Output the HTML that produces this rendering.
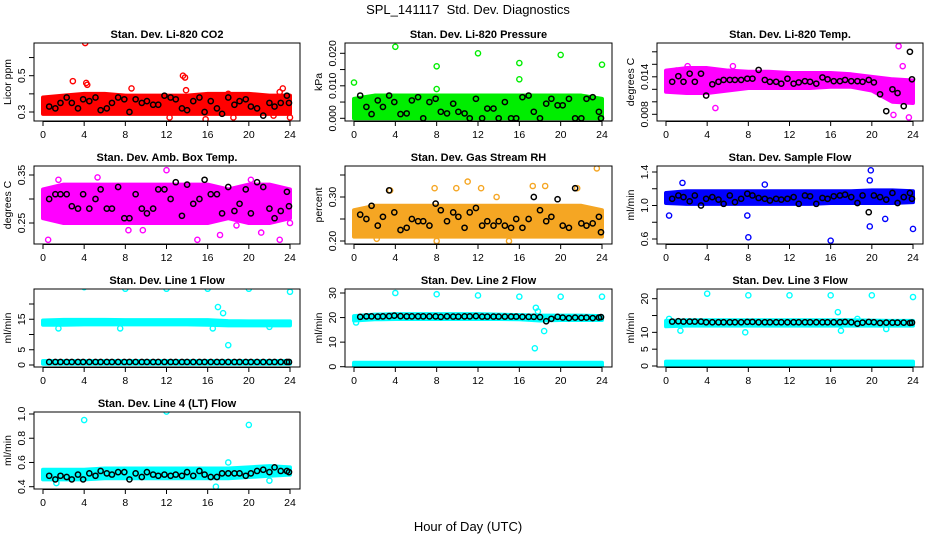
<!DOCTYPE html>
<html><head><meta charset="utf-8"><style>
body{margin:0;background:#fff}
svg{display:block;font-family:"Liberation Sans",Arial,sans-serif}
.t{font-size:11px;font-weight:bold;text-anchor:middle}
.tk{font-size:10.5px;text-anchor:middle}
</style></head><body>
<svg id="c" width="936" height="540" viewBox="0 0 936 540">
<text x="468" y="14" font-size="13" text-anchor="middle">SPL_141117&#160; Std. Dev. Diagnostics</text>
<text x="468" y="531" font-size="13" text-anchor="middle">Hour of Day (UTC)</text>
</svg>
<script>
const xTicks=[0,4,8,12,16,20,24];
const bandHours=[0,2,4,6,8,10,12,14,16,18,20,22,24];
const blackHours=[0.6,1.2,1.7,2.3,2.8,3.4,3.9,4.5,5.1,5.6,6.2,6.7,7.3,7.9,8.4,9.0,9.6,10.1,10.7,11.2,11.8,12.4,12.9,13.5,14.0,14.6,15.2,15.7,16.3,16.9,17.4,18.0,18.6,19.1,19.7,20.2,20.8,21.4,22.0,22.5,23.1,23.7,23.9];

const co2Lo=[0.29,0.29,0.29,0.29,0.29,0.29,0.29,0.29,0.29,0.29,0.29,0.29,0.29];
const co2Hi=[0.38,0.39,0.40,0.40,0.39,0.39,0.39,0.39,0.40,0.40,0.40,0.39,0.39];
const co2OutH=[4.1,2.9,4.2,4.3,8.6,13.6,13.8,13.9,23.3,23.0,18.0,24.0,18.5,12.3,15.8,22.4];
const co2OutV=[0.68,0.47,0.46,0.45,0.43,0.50,0.49,0.42,0.43,0.41,0.40,0.27,0.27,0.27,0.26,0.28];
const co2Black=[0.33,0.32,0.35,0.38,0.35,0.32,0.37,0.36,0.38,0.31,0.32,0.35,0.38,0.37,0.30,0.37,0.35,0.36,0.34,0.34,0.39,0.38,0.37,0.32,0.31,0.36,0.38,0.30,0.36,0.32,0.29,0.38,0.34,0.36,0.37,0.33,0.32,0.28,0.35,0.33,0.35,0.39,0.35];
const prLo=[0,0,0,0,0,0,0,0,0,0,0,0,0];
const prHi=[0.006,0.007,0.007,0.007,0.007,0.007,0.007,0.007,0.007,0.007,0.007,0.007,0.006];
const prOutH=[0,4,8,8,12,16,16,20,24];
const prOutV=[0.011,0.022,0.016,0.009,0.020,0.017,0.012,0.0195,0.0165];
const prBlack=[0.007,0.0035,0.0013,0.0055,0.0035,0.007,0.005,0.0013,0.0015,0.0055,0.0065,0,0.005,0.006,0.002,0.0015,0.0045,0.002,0.0015,0,0.006,0,0.003,0.003,0,0.005,0,0,0.0065,0.007,0.002,0,0.0045,0.006,0.004,0.004,0.006,0,0,0.006,0.0065,0.002,0];
const ltLo=[0.0116,0.0114,0.0114,0.0118,0.0122,0.0122,0.0122,0.0122,0.0124,0.0124,0.0118,0.0100,0.0098];
const ltHi=[0.0150,0.0154,0.0154,0.0150,0.0148,0.0148,0.0146,0.0146,0.0146,0.0144,0.0140,0.0136,0.0134];
const ltOutH=[4.8,22.6,23.0,23.6,22.1,6.5,2.1,1.0];
const ltOutV=[0.0090,0.0189,0.0157,0.0075,0.0079,0.0157,0.0157,0.0150];
const ltBlack=[0.0132,0.0141,0.0132,0.0145,0.0132,0.0145,0.0110,0.0128,0.0132,0.0135,0.0135,0.0135,0.0135,0.0137,0.0137,0.0151,0.0135,0.0132,0.0132,0.0129,0.0137,0.0129,0.0131,0.0133,0.0132,0.0129,0.0139,0.0136,0.0133,0.0133,0.0135,0.0133,0.0133,0.0132,0.0135,0.0131,0.0112,0.0085,0.0120,0.0114,0.0093,0.0180,0.0136];
const abLo=[0.26,0.25,0.25,0.25,0.25,0.25,0.25,0.25,0.25,0.26,0.25,0.25,0.26];
const abHi=[0.32,0.33,0.33,0.33,0.33,0.33,0.33,0.33,0.33,0.32,0.33,0.33,0.32];
const abOutH=[0.5,1.5,5.3,8.3,9.7,12.0,15.0,17.2,18.8,20.2,21.2,23.0,24.0];
const abOutV=[0.215,0.34,0.345,0.235,0.235,0.36,0.215,0.225,0.245,0.34,0.23,0.215,0.25];
const abBlack=[0.30,0.31,0.31,0.31,0.285,0.28,0.31,0.28,0.30,0.32,0.28,0.28,0.325,0.26,0.26,0.31,0.28,0.27,0.28,0.32,0.32,0.30,0.335,0.265,0.33,0.29,0.30,0.34,0.31,0.31,0.27,0.325,0.275,0.29,0.32,0.27,0.335,0.325,0.28,0.26,0.275,0.315,0.285];
const rhLo=[0.21,0.21,0.21,0.21,0.21,0.21,0.21,0.21,0.21,0.21,0.21,0.21,0.21];
const rhHi=[0.27,0.28,0.28,0.28,0.28,0.28,0.28,0.28,0.28,0.28,0.28,0.28,0.27];
const rhOutH=[3.5,7.8,9.9,11.0,12.3,13.8,17.3,18.5,21.6,23.5,15.0,8.0,2.2];
const rhOutV=[0.315,0.32,0.32,0.335,0.32,0.30,0.325,0.325,0.32,0.365,0.20,0.20,0.205];
const rhBlack=[0.26,0.25,0.28,0.235,0.255,0.315,0.265,0.225,0.23,0.25,0.245,0.245,0.235,0.285,0.27,0.245,0.265,0.255,0.23,0.265,0.275,0.235,0.245,0.235,0.245,0.235,0.23,0.25,0.23,0.25,0.30,0.27,0.245,0.255,0.295,0.235,0.23,0.32,0.24,0.235,0.24,0.255,0.22];
const sfLo=[1.03,1.02,1.02,1.02,1.02,1.02,1.02,1.02,1.03,1.03,1.03,1.03,1.04];
const sfHi=[1.15,1.17,1.17,1.17,1.17,1.17,1.17,1.17,1.17,1.17,1.18,1.18,1.17];
const sfOutH=[0.3,7.9,8.0,16.0,19.9,21.3,24.0,1.6,9.6,19.8,19.8];
const sfOutV=[0.88,0.88,0.62,0.58,1.42,0.84,0.72,1.27,1.25,1.30,0.75];
const sfBlack=[1.08,1.12,1.10,1.05,1.12,1.00,1.08,1.10,1.07,1.02,1.12,1.04,1.08,1.14,1.12,1.09,1.08,1.06,1.08,1.07,1.08,1.10,1.02,1.12,1.11,1.02,1.09,1.08,1.11,1.12,1.13,1.10,1.03,1.12,0.92,1.12,1.10,1.07,1.15,1.03,1.10,1.15,1.08];
const l1Lo=[13.2,13.2,13.3,13.3,13.3,13.3,13.3,13.3,13.2,13.0,13.0,13.0,13.0];
const l1Hi=[14.6,14.8,14.8,14.8,14.7,14.7,14.7,14.7,14.7,14.4,14.3,14.3,14.3];
const l1Lo2=[0.4,0.4,0.4,0.4,0.4,0.4,0.4,0.4,0.4,0.4,0.4,0.4,0.4];
const l1Hi2=[1.3,1.3,1.3,1.3,1.3,1.3,1.3,1.3,1.3,1.3,1.3,1.3,1.3];
const l1OutH=[4,8,12,16,20,24,17,17.5,18,1.5,7.5,22,16.5];
const l1OutV=[25.5,25,25,25,25,24,19,17,6.5,12,12,12.5,12];
const l1Black=[1,1,1,1,1,1,1,1,1,1,1,1,1,1,1,1,1,1,1,1,1,1,1,1,1,1,1,1,1,1,1,1,1,1,1,1,1,1,1,1,1,1,1];
const l2Lo=[18.8,19.3,19.4,19.4,19.4,19.4,19.4,19.4,19.3,18.8,19.0,19.0,19.0];
const l2Hi=[20.6,21.2,21.4,21.4,21.4,21.4,21.4,21.2,21.0,20.8,20.8,20.8,20.6];
const l2Lo2=[0.2,0.2,0.2,0.2,0.2,0.2,0.2,0.2,0.2,0.2,0.2,0.2,0.2];
const l2Hi2=[1.6,1.6,1.6,1.6,1.6,1.6,1.6,1.6,1.6,1.6,1.6,1.6,1.6];
const l2OutH=[4,8,12,16,20,24,17.6,17.8,18.4,17.5,0.2];
const l2OutV=[30,29.5,29,28.5,28.5,28.5,24,22.5,14.5,7.5,18];
const l2Black=[20.3,20.5,20.5,20.4,20.5,20.6,20.8,20.6,20.5,20.5,20.5,20.5,20.5,20.5,20.3,20.5,20.4,20.4,20.5,20.5,20.6,20.4,20.4,20.4,20.4,20.4,20.4,20.4,20.3,20.3,20.3,20.2,18.5,19.5,20.3,20.0,19.8,20.0,19.9,20.0,19.8,20.0,20.2];
const l3Lo=[11.8,12.0,12.0,12.0,12.0,12.0,12.0,12.0,12.0,12.0,12.0,12.0,12.0];
const l3Hi=[13.4,13.6,13.6,13.6,13.6,13.6,13.6,13.6,13.6,13.6,13.5,13.4,13.4];
const l3Lo2=[0.3,0.3,0.3,0.3,0.3,0.3,0.3,0.3,0.3,0.3,0.3,0.3,0.3];
const l3Hi2=[1.3,1.3,1.3,1.3,1.3,1.3,1.3,1.3,1.3,1.3,1.3,1.3,1.3];
const l3OutH=[4,8,12,16,20,24,1.4,7.7,16.7,17.0,18.6,21.4,0.3];
const l3OutV=[21.5,21,21,21,21,20.5,10.5,10,16,10.5,14,11,14];
const l3Black=[13.2,13.3,13.2,13.2,13.2,13.2,13.0,13.0,13.0,13.0,13.0,13.0,13.0,13.1,13.1,13.0,13.0,13.0,13.0,13.0,13.0,13.0,13.0,13.0,13.0,13.0,13.0,13.0,13.0,13.0,13.1,13.0,12.6,12.9,13.1,13.0,12.8,12.9,12.9,12.9,12.9,12.8,12.9];
const l4Lo=[0.46,0.46,0.46,0.47,0.47,0.47,0.47,0.47,0.47,0.47,0.48,0.49,0.50];
const l4Hi=[0.54,0.54,0.54,0.55,0.55,0.55,0.55,0.55,0.55,0.55,0.56,0.57,0.56];
const l4OutH=[4,12,20,1.3,16.8,18,22];
const l4OutV=[0.95,1.02,0.91,0.43,0.40,0.60,0.45];
const l4Black=[0.49,0.46,0.49,0.48,0.46,0.50,0.46,0.51,0.49,0.53,0.51,0.50,0.52,0.52,0.46,0.51,0.48,0.52,0.50,0.49,0.50,0.49,0.50,0.49,0.52,0.49,0.53,0.50,0.48,0.48,0.51,0.51,0.51,0.51,0.49,0.51,0.53,0.54,0.52,0.56,0.53,0.53,0.52];

const NS='http://www.w3.org/2000/svg';
const svg=document.getElementById('c');
function mk(tag,attrs,parent){const e=document.createElementNS(NS,tag);for(const k in attrs)e.setAttribute(k,attrs[k]);(parent||svg).appendChild(e);return e;}

const colX=[34,345,657], colW=[266,267,266];
const rowY=[43,166,289,412], rowH=[78,78,78,77];

const panels=[
 {key:'co2',title:'Stan. Dev. Li-820 CO2',ylab:'Licor ppm',c:0,r:0,col:'#ff0000',v0:0.3,p0:112,v1:0.5,p1:75.7,yt:[0.3,0.4,0.5,0.6],yl:['0.3','','0.5',''],lo:co2Lo,hi:co2Hi,oh:co2OutH,ov:co2OutV,bk:co2Black},
 {key:'pressure',title:'Stan. Dev. Li-820 Pressure',ylab:'kPa',c:1,r:0,col:'#00ee00',v0:0,p0:118.3,v1:0.02,p1:53.3,yt:[0,0.005,0.01,0.015,0.02],yl:['0.000','','0.010','','0.020'],lo:prLo,hi:prHi,oh:prOutH,ov:prOutV,bk:prBlack},
 {key:'li-temp',title:'Stan. Dev. Li-820 Temp.',ylab:'degrees C',c:2,r:0,col:'#ff00ff',v0:0.008,p0:114.3,v1:0.016,p1:64.3,yt:[0.008,0.010,0.012,0.014,0.016,0.018],yl:['0.008','','','0.014','',''],lo:ltLo,hi:ltHi,oh:ltOutH,ov:ltOutV,bk:ltBlack},
 {key:'amb-temp',title:'Stan. Dev. Amb. Box Temp.',ylab:'degrees C',c:0,r:1,col:'#ff00ff',v0:0.25,p0:223,v1:0.35,p1:175,yt:[0.25,0.30,0.35],yl:['0.25','','0.35'],lo:abLo,hi:abHi,oh:abOutH,ov:abOutV,bk:abBlack},
 {key:'rh',title:'Stan. Dev. Gas Stream RH',ylab:'percent',c:1,r:1,col:'#f5a623',v0:0.2,p0:241,v1:0.3,p1:197,yt:[0.2,0.25,0.3,0.35],yl:['0.20','','0.30',''],lo:rhLo,hi:rhHi,oh:rhOutH,ov:rhOutV,bk:rhBlack},
 {key:'sample-flow',title:'Stan. Dev. Sample Flow',ylab:'ml/min',c:2,r:1,col:'#0000ff',v0:0.6,p0:239,v1:1.4,p1:172,yt:[0.6,0.8,1.0,1.2,1.4],yl:['0.6','','1.0','','1.4'],lo:sfLo,hi:sfHi,oh:sfOutH,ov:sfOutV,bk:sfBlack},
 {key:'line1',title:'Stan. Dev. Line 1 Flow',ylab:'ml/min',c:0,r:2,col:'#00ffff',v0:0,p0:365,v1:20,p1:304,yt:[0,5,10,15,20],yl:['0','5','','15',''],lo:l1Lo,hi:l1Hi,lo2:l1Lo2,hi2:l1Hi2,oh:l1OutH,ov:l1OutV,bk:l1Black},
 {key:'line2',title:'Stan. Dev. Line 2 Flow',ylab:'ml/min',c:1,r:2,col:'#00ffff',v0:0,p0:366.7,v1:30,p1:293,yt:[0,10,20,30],yl:['0','10','20','30'],lo:l2Lo,hi:l2Hi,lo2:l2Lo2,hi2:l2Hi2,oh:l2OutH,ov:l2OutV,bk:l2Black},
 {key:'line3',title:'Stan. Dev. Line 3 Flow',ylab:'ml/min',c:2,r:2,col:'#00ffff',v0:0,p0:366,v1:20,p1:298.7,yt:[0,5,10,15,20],yl:['0','5','10','','20'],lo:l3Lo,hi:l3Hi,lo2:l3Lo2,hi2:l3Hi2,oh:l3OutH,ov:l3OutV,bk:l3Black},
 {key:'line4',title:'Stan. Dev. Line 4 (LT) Flow',ylab:'ml/min',c:0,r:3,col:'#00ffff',v0:0.4,p0:486.7,v1:1.0,p1:414,yt:[0.4,0.6,0.8,1.0],yl:['0.4','0.6','0.8','1.0'],lo:l4Lo,hi:l4Hi,oh:l4OutH,ov:l4OutV,bk:l4Black}
];

panels.forEach(p=>{
 const bx=colX[p.c], bw=colW[p.c], by=rowY[p.r], bh=rowH[p.r];
 const xs=h=>bx+9+h*(bw-19)/24;
 const ys=v=>p.p0+(v-p.v0)*(p.p1-p.p0)/(p.v1-p.v0);
 const g=mk('g',{});
 
 
 const clipId='clip-'+p.key;
 const cp=mk('clipPath',{id:clipId},g);
 mk('rect',{x:bx,y:by,width:bw,height:bh},cp);
 const pg=mk('g',{'clip-path':'url(#'+clipId+')'},g);
 const bands=[[p.lo,p.hi]]; if(p.lo2) bands.push([p.lo2,p.hi2]);
 bands.forEach(([lo,hi],bi)=>{
  let pts=bandHours.map((h,i)=>xs(h)+','+ys(hi[i]));
  pts=pts.concat(bandHours.map((h,i)=>xs(h)+','+ys(lo[i])).reverse());
  const poly=mk('polygon',{points:pts.join(' '),fill:p.col,stroke:p.col,'stroke-width':4,'stroke-linejoin':'round'},pg);
  
  
 });
 p.oh.forEach((h,i)=>{
  const c=mk('circle',{cx:xs(h),cy:ys(p.ov[i]),r:2.6,fill:'none',stroke:p.col,'stroke-width':1.4},pg);
  
  
 });
 blackHours.forEach((h,i)=>{
  const c=mk('circle',{cx:xs(h),cy:ys(p.bk[i]),r:2.6,fill:'none',stroke:'#000','stroke-width':1.5},pg);
  
  
 });
 const box=mk('rect',{x:bx,y:by,width:bw,height:bh,fill:'none',stroke:'#000','stroke-width':1},g);
 
 
 const t=mk('text',{x:bx+bw/2,y:by-5,class:'t'},g); t.textContent=p.title;
 
 
 xTicks.forEach(v=>{
  mk('line',{x1:xs(v),x2:xs(v),y1:by+bh,y2:by+bh+5,stroke:'#000'},g);
  const tl=mk('text',{x:xs(v),y:by+bh+17,class:'tk'},g); tl.textContent=v;
  
  
 });
 mk('line',{x1:xs(0),x2:xs(24),y1:by+bh+0.5,y2:by+bh+0.5,stroke:'#000'},g);
 p.yt.forEach((v,i)=>{
  const y=ys(v); if(y<by-1||y>by+bh+1) return;
  mk('line',{x1:bx-5,x2:bx,y1:y,y2:y,stroke:'#000'},g);
  if(p.yl[i]){const tl=mk('text',{x:0,y:0,class:'tk',transform:'translate('+(bx-9)+','+y+') rotate(-90)'},g);tl.textContent=p.yl[i];
   
   }
 });
 const yl=mk('text',{x:0,y:0,class:'tk',transform:'translate('+(bx-23)+','+(by+bh/2)+') rotate(-90)'},g);yl.textContent=p.ylab;
 
 
});
</script>
</body></html>
